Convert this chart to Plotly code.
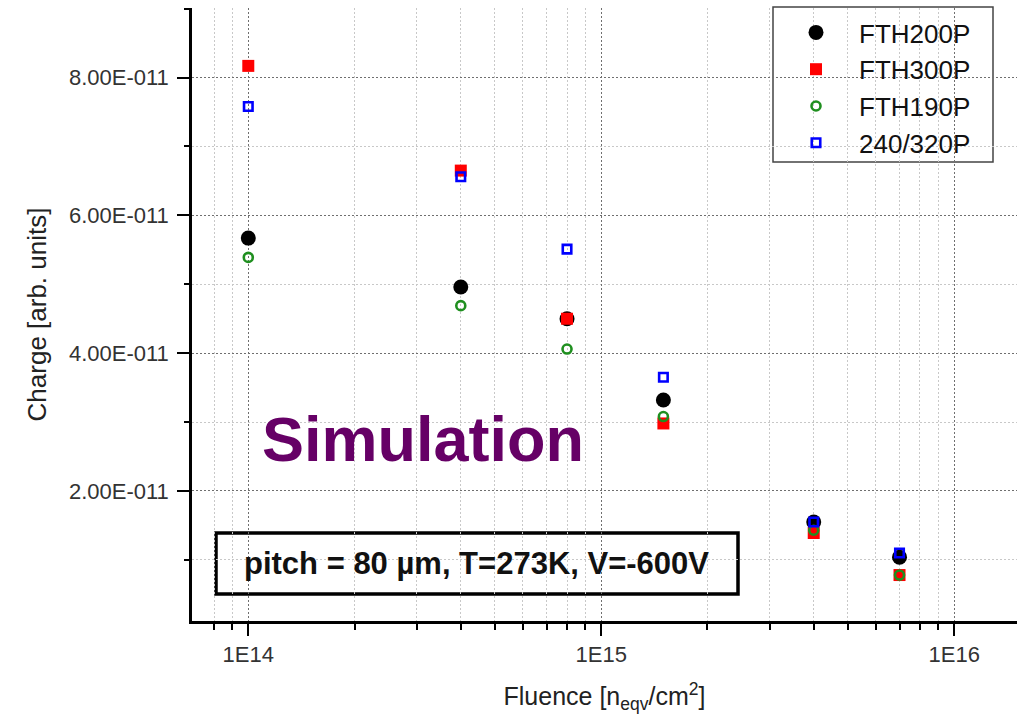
import plotly.graph_objects as go

# ---- data ----
fluence = [1e14, 4e14, 8e14, 1.5e15, 4e15, 7e15]
fth200p = [5.67e-11, 4.96e-11, 4.50e-11, 3.32e-11, 1.55e-11, 1.04e-11]
fth300p = [8.17e-11, 6.65e-11, 4.50e-11, 2.98e-11, 1.39e-11, 0.78e-11]
fth190p = [5.39e-11, 4.69e-11, 4.06e-11, 3.08e-11, 1.43e-11, 0.78e-11]
p240_320 = [7.58e-11, 6.56e-11, 5.51e-11, 3.65e-11, 1.55e-11, 1.10e-11]

series_names = ["FTH200P", "FTH300P", "FTH190P", "240/320P"]

x_tickvals = [1e14, 1e15, 1e16]
x_ticktext = ["1E14", "1E15", "1E16"]
x_minor = [8e13, 9e13, 2e14, 3e14, 4e14, 5e14, 6e14, 7e14, 8e14, 9e14,
           2e15, 3e15, 4e15, 5e15, 6e15, 7e15, 8e15, 9e15]
y_tickvals = [2e-11, 4e-11, 6e-11, 8e-11]
y_ticktext = ["2.00E-011", "4.00E-011", "6.00E-011", "8.00E-011"]
y_minor = [1e-11, 3e-11, 5e-11, 7e-11, 9e-11]

FONT = "Liberation Sans, Arial, sans-serif"

fig = go.Figure()
fig.add_trace(go.Scatter(x=fluence, y=fth200p, mode="markers", name=series_names[0],
                         marker=dict(symbol="circle", size=15, color="#000000",
                                     line=dict(width=0))))
fig.add_trace(go.Scatter(x=fluence, y=fth300p, mode="markers", name=series_names[1],
                         marker=dict(symbol="square", size=12, color="#ff0000",
                                     line=dict(width=0))))
fig.add_trace(go.Scatter(x=fluence, y=fth190p, mode="markers", name=series_names[2],
                         marker=dict(symbol="circle-open", size=9, color="#1f8f1f",
                                     line=dict(width=2.6, color="#1f8f1f"))))
fig.add_trace(go.Scatter(x=fluence, y=p240_320, mode="markers", name=series_names[3],
                         marker=dict(symbol="square-open", size=8.5, color="#0000ff",
                                     line=dict(width=2.6, color="#0000ff"))))

L, R, T, B = 192, 12, 8, 104
W, H = 1029, 725
pw, ph = W - L - R, H - T - B

def px(xp):
    return (xp - L) / pw

def py(yp):
    return (H - B - yp) / ph

fig.update_layout(
    width=W, height=H,
    margin=dict(l=L, r=R, t=T, b=B, autoexpand=False),
    paper_bgcolor="white", plot_bgcolor="white",
    font=dict(family=FONT, color="#222222"),
    showlegend=True,
    legend=dict(x=px(773), y=py(9), xanchor="left", yanchor="top",
                bgcolor="rgba(0,0,0,0)", borderwidth=0,
                font=dict(size=26, family=FONT, color="#111111"),
                itemwidth=76),
    xaxis=dict(
        type="log", range=[13.8405, 16.178],
        tickmode="array", tickvals=x_tickvals, ticktext=x_ticktext,
        ticks="outside", ticklen=12, tickwidth=2, tickcolor="#000",
        showline=True, linecolor="#000", linewidth=2.5,
        showgrid=True, gridcolor="#6f6f6f", gridwidth=1.4, griddash="2px,2px",
        zeroline=False,
        tickfont=dict(size=22, family=FONT, color="#333333"),
        minor=dict(tickmode="array", tickvals=x_minor, ticks="outside", ticklen=6,
                   tickwidth=2, tickcolor="#000", showgrid=True,
                   gridcolor="#c8c8c8", gridwidth=1, griddash="2px,2px"),
        title=dict(text="Fluence [n<sub>eqv</sub>/cm<sup>2</sup>]",
                   font=dict(size=25, family=FONT, color="#222222"), standoff=22),
    ),
    yaxis=dict(
        range=[1.13e-12, 9.01e-11],
        tickmode="array", tickvals=y_tickvals, ticktext=y_ticktext,
        ticks="outside", ticklen=12, tickwidth=2, tickcolor="#000",
        showline=True, linecolor="#000", linewidth=2.5,
        showgrid=True, gridcolor="#6f6f6f", gridwidth=1.4, griddash="2px,2px",
        zeroline=False,
        tickfont=dict(size=22, family=FONT, color="#333333"),
        ticklabelstandoff=4,
        minor=dict(tickmode="array", tickvals=y_minor, ticks="outside", ticklen=5,
                   tickwidth=2, tickcolor="#000", showgrid=True,
                   gridcolor="#c8c8c8", gridwidth=1, griddash="2px,2px"),
        title=dict(text="Charge [arb. units]",
                   font=dict(size=26, family=FONT, color="#222222"), standoff=15),
    ),
    shapes=[
        # white patch behind the "Simulation" label
        dict(type="rect", xref="paper", yref="paper", layer="between",
             x0=px(240), x1=px(608), y0=py(488), y1=py(387),
             fillcolor="white", line=dict(width=0)),
        # framed box for the conditions text
        dict(type="rect", xref="paper", yref="paper", layer="between",
             x0=px(216), x1=px(738), y0=py(594), y1=py(533),
             fillcolor="white", line=dict(width=3.5, color="#000")),
        # legend frame
        dict(type="rect", xref="paper", yref="paper", layer="between",
             x0=px(773), x1=px(993), y0=py(162), y1=py(7),
             fillcolor="white", line=dict(width=1.5, color="#444444")),
    ],
    annotations=[
        dict(text="<b>Simulation</b>", xref="paper", yref="paper",
             x=px(422.5), y=py(439), xanchor="center", yanchor="middle",
             showarrow=False, font=dict(size=63, family=FONT, color="#660066")),
        dict(text="<b>pitch = 80 µm, T=273K, V=-600V</b>", xref="paper", yref="paper",
             x=px(476), y=py(563), xanchor="center", yanchor="middle",
             showarrow=False, font=dict(size=31, family=FONT, color="#111111")),
    ],
)

fig.write_html("out.html")
